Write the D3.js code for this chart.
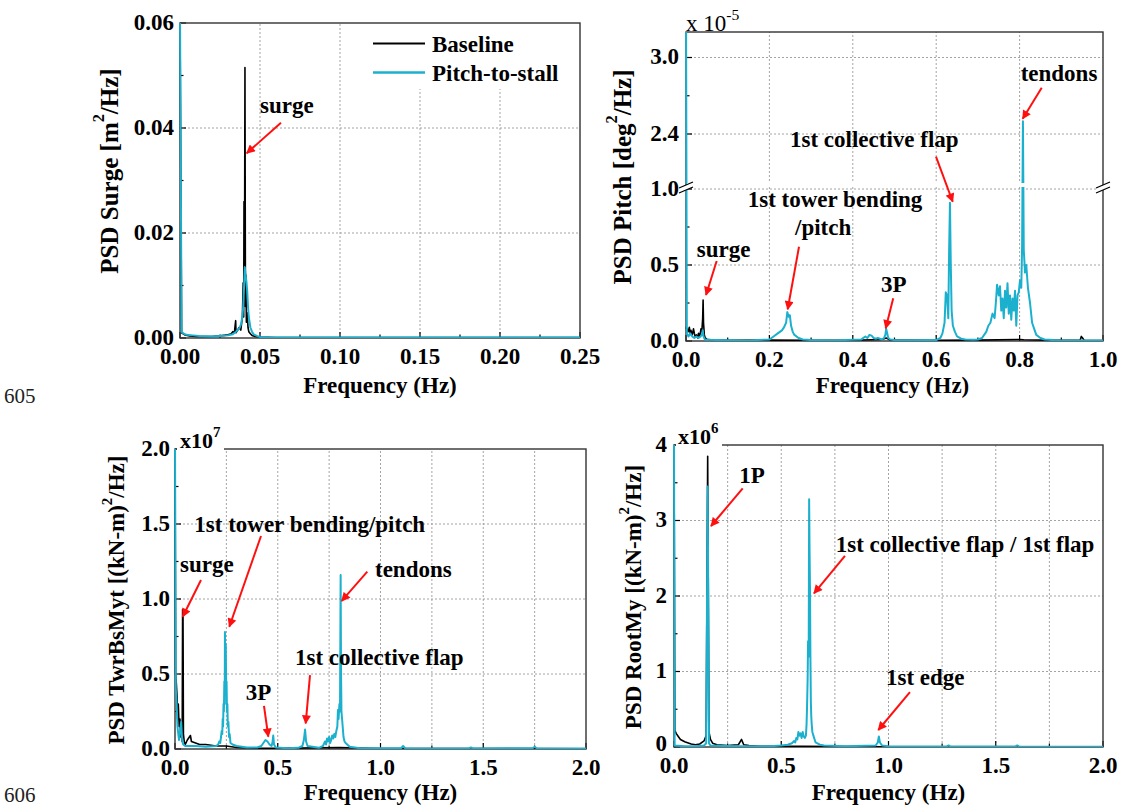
<!DOCTYPE html>
<html><head><meta charset="utf-8">
<script src="https://cdn.jsdelivr.net/npm/d3@7"></script>
<style>
body{margin:0;background:#fff;}
svg{display:block;}
text{font-family:'Liberation Serif','Times New Roman',serif;}
</style>
</head><body>
<svg id="c" width="1121" height="808"></svg>
<script>
// ---------------- DATA ----------------
const seriesNames = ["Baseline", "Pitch-to-stall"];
const pageNumbers = ["605", "606"];

// Panel 1: PSD Surge [m^2/Hz]
const surgeXTicks = [0, 0.05, 0.10, 0.15, 0.20, 0.25];
const surgeYTicks = [0, 0.02, 0.04, 0.06];
const surgeBaseline = [[0,0.062],[0.001,0.001],[0.003,0.0006],[0.006,0.0004],[0.01,0.0003],[0.015,0.0003],[0.02,0.0003],[0.025,0.0004],[0.03,0.0006],[0.032,0.0008],[0.033,0.0012],[0.034,0.001],[0.0345,0.0025],[0.0348,0.0033],[0.035,0.001],[0.036,0.0015],[0.037,0.002],[0.038,0.0015],[0.039,0.004],[0.0395,0.0105],[0.0398,0.004],[0.040,0.026],[0.0403,0.008],[0.0406,0.0515],[0.0409,0.006],[0.0412,0.012],[0.0415,0.003],[0.042,0.0048],[0.0425,0.002],[0.043,0.0012],[0.044,0.0008],[0.045,0.0005],[0.047,0.0003],[0.05,0.0002],[0.06,0.0001],[0.1,0.0001],[0.15,0.0001],[0.2,0.0001],[0.25,0.0001]];
const surgePitch = [[0,0.062],[0.001,0.0012],[0.002,0.0009],[0.004,0.0006],[0.008,0.0005],[0.012,0.0004],[0.02,0.0003],[0.025,0.0004],[0.03,0.0005],[0.033,0.0007],[0.035,0.0012],[0.037,0.0018],[0.038,0.0025],[0.039,0.004],[0.0395,0.006],[0.040,0.0095],[0.0405,0.0135],[0.041,0.012],[0.0415,0.0108],[0.042,0.009],[0.0425,0.006],[0.043,0.004],[0.044,0.002],[0.045,0.0012],[0.046,0.0007],[0.048,0.0004],[0.05,0.0002],[0.055,0.0001],[0.06,0.00008],[0.1,0.00008],[0.15,0.00008],[0.2,0.00008],[0.25,0.00008]];

// Panel 2: PSD Pitch [deg^2/Hz] (x 1e-5), broken axis
const pitchXTicks = [0, 0.2, 0.4, 0.6, 0.8, 1.0];
const pitchYTicksLow = [0, 0.5, 1.0];
const pitchYTicksHigh = [2.4, 3.0];
const pitchBaseline = [[0,0.09],[0.002,0.08],[0.005,0.06],[0.008,0.09],[0.01,0.05],[0.012,0.07],[0.015,0.04],[0.018,0.08],[0.02,0.05],[0.022,0.03],[0.025,0.04],[0.028,0.02],[0.03,0.05],[0.033,0.03],[0.036,0.08],[0.038,0.06],[0.04,0.15],[0.041,0.27],[0.042,0.12],[0.044,0.04],[0.046,0.02],[0.05,0.012],[0.06,0.008],[0.1,0.005],[0.2,0.006],[0.3,0.004],[0.4,0.005],[0.47,0.01],[0.48,0.02],[0.49,0.006],[0.6,0.005],[0.7,0.006],[0.8,0.01],[0.81,0.008],[0.9,0.004],[0.945,0.004],[0.948,0.03],[0.951,0.02],[0.955,0.004],[1.0,0.003]];
const pitchPitch = [[0,3.5],[0.002,0.05],[0.004,0.04],[0.006,0.03],[0.01,0.05],[0.015,0.03],[0.02,0.02],[0.025,0.03],[0.03,0.02],[0.035,0.03],[0.038,0.04],[0.04,0.07],[0.042,0.03],[0.045,0.01],[0.05,0.008],[0.1,0.005],[0.15,0.004],[0.2,0.01],[0.21,0.03],[0.22,0.05],[0.23,0.07],[0.235,0.09],[0.24,0.12],[0.243,0.19],[0.246,0.16],[0.249,0.17],[0.252,0.1],[0.256,0.06],[0.26,0.04],[0.27,0.02],[0.28,0.01],[0.3,0.006],[0.35,0.004],[0.42,0.01],[0.43,0.03],[0.435,0.02],[0.44,0.04],[0.445,0.035],[0.45,0.02],[0.455,0.015],[0.46,0.02],[0.47,0.01],[0.475,0.02],[0.478,0.04],[0.48,0.08],[0.485,0.02],[0.49,0.01],[0.5,0.006],[0.55,0.005],[0.6,0.006],[0.61,0.02],[0.615,0.05],[0.62,0.12],[0.623,0.32],[0.626,0.3],[0.629,0.15],[0.631,0.6],[0.633,0.91],[0.635,0.5],[0.637,0.2],[0.64,0.1],[0.645,0.06],[0.65,0.03],[0.66,0.015],[0.67,0.01],[0.69,0.008],[0.7,0.01],[0.71,0.02],[0.715,0.04],[0.72,0.06],[0.725,0.1],[0.73,0.12],[0.735,0.18],[0.74,0.15],[0.743,0.25],[0.746,0.37],[0.75,0.3],[0.753,0.36],[0.756,0.2],[0.759,0.28],[0.762,0.15],[0.765,0.33],[0.768,0.22],[0.771,0.38],[0.774,0.18],[0.777,0.3],[0.78,0.14],[0.783,0.28],[0.786,0.2],[0.789,0.33],[0.792,0.1],[0.795,0.3],[0.798,0.32],[0.801,0.4],[0.804,0.35],[0.806,0.62],[0.808,2.5],[0.81,0.6],[0.813,0.45],[0.816,0.5],[0.82,0.35],[0.825,0.25],[0.83,0.12],[0.835,0.08],[0.84,0.04],[0.85,0.02],[0.86,0.01],[0.88,0.006],[0.9,0.004],[1.0,0.003]];

// Panel 3: PSD TwrBsMyt [(kN-m)^2/Hz] (x 1e7)
const twrXTicks = [0, 0.5, 1.0, 1.5, 2.0];
const twrYTicks = [0, 0.5, 1.0, 1.5, 2.0];
const twrBaseline = [[0,2.1],[0.003,0.5],[0.006,0.45],[0.01,0.35],[0.013,0.2],[0.016,0.3],[0.02,0.15],[0.024,0.2],[0.028,0.08],[0.032,0.15],[0.035,0.05],[0.037,0.93],[0.039,0.9],[0.041,0.1],[0.045,0.05],[0.05,0.03],[0.06,0.06],[0.07,0.08],[0.075,0.09],[0.08,0.05],[0.1,0.04],[0.12,0.03],[0.15,0.03],[0.2,0.02],[0.25,0.02],[0.3,0.01],[0.4,0.005],[0.5,0.004],[0.8,0.01],[1.0,0.003],[2.0,0.002]];
const twrPitch = [[0,2.1],[0.004,0.4],[0.008,0.3],[0.012,0.15],[0.016,0.1],[0.02,0.06],[0.025,0.12],[0.03,0.18],[0.033,0.1],[0.036,0.05],[0.04,0.03],[0.05,0.02],[0.1,0.02],[0.15,0.015],[0.2,0.02],[0.21,0.03],[0.215,0.05],[0.22,0.04],[0.224,0.08],[0.227,0.12],[0.23,0.1],[0.232,0.2],[0.234,0.15],[0.236,0.3],[0.238,0.25],[0.24,0.45],[0.242,0.3],[0.243,0.78],[0.245,0.55],[0.247,0.7],[0.249,0.4],[0.251,0.45],[0.253,0.25],[0.255,0.3],[0.257,0.15],[0.26,0.18],[0.263,0.08],[0.266,0.1],[0.27,0.04],[0.28,0.03],[0.3,0.02],[0.35,0.01],[0.4,0.01],[0.42,0.02],[0.43,0.04],[0.44,0.06],[0.45,0.05],[0.46,0.03],[0.47,0.02],[0.475,0.05],[0.478,0.09],[0.482,0.03],[0.49,0.01],[0.55,0.005],[0.6,0.008],[0.62,0.02],[0.627,0.06],[0.633,0.13],[0.638,0.05],[0.645,0.02],[0.7,0.008],[0.72,0.02],[0.73,0.05],[0.735,0.03],[0.74,0.07],[0.745,0.05],[0.75,0.08],[0.755,0.04],[0.76,0.06],[0.765,0.09],[0.77,0.07],[0.775,0.1],[0.78,0.08],[0.785,0.12],[0.79,0.15],[0.793,0.26],[0.796,0.2],[0.8,0.3],[0.803,0.25],[0.806,1.16],[0.808,0.5],[0.81,0.25],[0.813,0.2],[0.816,0.15],[0.82,0.08],[0.825,0.05],[0.83,0.04],[0.85,0.015],[0.9,0.005],[1.1,0.005],[1.11,0.02],[1.12,0.005],[1.43,0.004],[1.44,0.01],[1.45,0.004],[1.74,0.005],[1.75,0.015],[1.76,0.005],[1.9,0.004],[2.0,0.003]];

// Panel 4: PSD RootMy [(kN-m)^2/Hz] (x 1e6)
const rootXTicks = [0, 0.5, 1.0, 1.5, 2.0];
const rootYTicks = [0, 1, 2, 3, 4];
const rootBaseline = [[0,4.2],[0.004,0.22],[0.01,0.18],[0.02,0.14],[0.03,0.1],[0.05,0.07],[0.08,0.04],[0.1,0.03],[0.12,0.04],[0.14,0.08],[0.15,0.15],[0.157,3.85],[0.163,0.2],[0.17,0.1],[0.18,0.05],[0.2,0.03],[0.25,0.02],[0.3,0.03],[0.315,0.1],[0.325,0.03],[0.35,0.02],[0.4,0.01],[0.5,0.01],[0.6,0.01],[0.8,0.005],[1.0,0.004],[2.0,0.003]];
const rootPitch = [[0,4.2],[0.003,0.02],[0.05,0.01],[0.1,0.01],[0.14,0.02],[0.15,0.05],[0.157,3.45],[0.163,0.05],[0.17,0.02],[0.3,0.01],[0.45,0.01],[0.5,0.02],[0.53,0.03],[0.55,0.05],[0.56,0.08],[0.565,0.06],[0.57,0.12],[0.575,0.1],[0.58,0.2],[0.585,0.15],[0.59,0.18],[0.595,0.12],[0.6,0.2],[0.605,0.14],[0.61,0.12],[0.615,0.15],[0.618,0.3],[0.62,0.5],[0.623,0.9],[0.625,1.4],[0.628,1.2],[0.63,3.28],[0.632,2.6],[0.634,2.1],[0.636,1.2],[0.638,0.6],[0.64,0.4],[0.642,0.3],[0.645,0.2],[0.65,0.15],[0.66,0.06],[0.68,0.03],[0.7,0.02],[0.8,0.01],[0.94,0.02],[0.95,0.06],[0.955,0.14],[0.96,0.06],[0.97,0.02],[1.0,0.01],[1.27,0.005],[1.28,0.02],[1.29,0.005],[1.59,0.005],[1.6,0.02],[1.61,0.005],[2.0,0.003]];

// Annotations: [text, textX, textY, tailX, tailY, tipX, tipY] in data units (tail/tip null = no arrow)
const surgeNotes = [["surge",0.05,0.0429,0.0631,0.0410,0.0417,0.0352]];
const pitchNotes = [
  ["tendons",0.8026,2.813,0.853,2.763,0.8074,2.519],
  ["1st collective flap",0.2494,2.30,0.5995,2.223,0.6396,0.916],
  ["1st tower bending",0.148,0.884,null,null,null,null],
  ["/pitch",0.2614,0.697,0.271,0.620,0.2439,0.2086],
  ["surge",0.0257,0.5546,0.0736,0.526,0.048,0.3026],
  ["3P",0.4676,0.3243,0.497,0.281,0.479,0.0836]];
const twrNotes = [
  ["1st tower bending/pitch",0.0939,1.449,0.4185,1.42,0.2642,0.815],
  ["surge",0.0243,1.182,0.1265,1.127,0.0375,0.882],
  ["tendons",0.9732,1.149,0.9358,1.182,0.8112,0.987],
  ["3P",0.344,0.327,0.433,0.287,0.454,0.082],
  ["1st collective flap",0.584,0.56,0.657,0.493,0.636,0.171]];
const rootNotes = [
  ["1P",0.3044,3.501,0.3203,3.426,0.1725,2.927],
  ["1st collective flap / 1st flap",0.7538,2.587,0.797,2.530,0.6527,2.036],
  ["1st edge",0.9883,0.821,1.100,0.728,0.9524,0.225]];

// ---------------- DRAWING ----------------
const COLORS = ["#000000", "#1cb0cf"];
const svg = d3.select("#c");
const defs = svg.append("defs");
defs.append("marker").attr("id","ah").attr("viewBox","0 0 10 10").attr("refX",9).attr("refY",5)
  .attr("markerWidth",10).attr("markerHeight",9).attr("markerUnits","userSpaceOnUse").attr("orient","auto")
  .append("path").attr("d","M0,0 L10,5 L0,10 z").attr("fill","#ff1010");

function drawPanel(o, idx){
  const g = svg.append("g");
  const x = d3.scaleLinear().domain([o.xTicks[0], o.xTicks[o.xTicks.length-1]]).range([o.L, o.R]);
  const y = o.y;
  // grid
  g.selectAll(".gx").data(o.gridX).enter().append("line")
    .attr("x1",d=>x(d)).attr("x2",d=>x(d)).attr("y1",o.B).attr("y2",d=> (o.gridXTop && o.gridXTop(d)) || o.T)
    .attr("stroke","#9a9a9a").attr("stroke-width",0.9).attr("stroke-dasharray","2,2");
  g.selectAll(".gy").data(o.gridY).enter().append("line")
    .attr("x1",o.L).attr("x2",o.R).attr("y1",d=>y(d)).attr("y2",d=>y(d))
    .attr("stroke","#9a9a9a").attr("stroke-width",0.9).attr("stroke-dasharray","2,2");
  if (o.legend) {
    g.append("rect").attr("x",o.L+188).attr("y",o.T+3).attr("width",208).attr("height",62).attr("fill","#fff");
  }
  // ticks
  const tk = (vals, len, axis) => vals.forEach(v=>{
    if (axis==="x") g.append("line").attr("x1",x(v)).attr("x2",x(v)).attr("y1",o.B).attr("y2",o.B-len).attr("stroke","#000").attr("stroke-width",1.2);
    else g.append("line").attr("x1",o.L).attr("x2",o.L+len).attr("y1",y(v)).attr("y2",y(v)).attr("stroke","#000").attr("stroke-width",1.2);
  });
  tk(o.xTicks,6,"x"); tk(o.xMinor,3.5,"x"); tk(o.yTicks,6,"y"); tk(o.yMinor,3.5,"y");
  // frame
  g.append("rect").attr("x",o.L).attr("y",o.T).attr("width",o.R-o.L).attr("height",o.B-o.T)
    .attr("fill","none").attr("stroke","#333").attr("stroke-width",1.4);
  // data
  const cid = "clip"+idx;
  defs.append("clipPath").attr("id",cid).append("rect").attr("x",o.L-1.2).attr("y",o.T).attr("width",o.R-o.L+1.2).attr("height",o.B-o.T);
  const line = d3.line().x(d=>x(d[0])).y(d=>y(d[1]));
  const dg = g.append("g").attr("clip-path",`url(#${cid})`);
  o.series.forEach((s,i)=>{
    dg.append("path").datum(s).attr("d",line).attr("fill","none").attr("stroke",COLORS[i])
      .attr("stroke-width", i===0?1.6:2).attr("stroke-linejoin","round");
  });
  // axis break
  if (o.breakY) {
    g.append("rect").attr("x",o.L+1).attr("y",o.breakY-6).attr("width",o.R-o.L-2).attr("height",4).attr("fill","#fff");
    [o.L, o.R].forEach(bx=>{
      g.append("path").attr("d",`M${bx-7},${o.breakY-1} L${bx+7},${o.breakY-7} L${bx+7},${o.breakY-2} L${bx-7},${o.breakY+4} z`).attr("fill","#fff");
      [0,5].forEach(dy=>g.append("line").attr("x1",bx-7).attr("y1",o.breakY-1+dy).attr("x2",bx+7).attr("y2",o.breakY-7+dy)
        .attr("stroke","#000").attr("stroke-width",1.3));
    });
  }
  // tick labels
  g.selectAll(".xl").data(o.xTicks).enter().append("text").attr("x",d=>x(d)).attr("y",o.B+26)
    .attr("text-anchor","middle").attr("font-size",23).attr("font-weight","bold").text(o.xFmt);
  const yDy = o.yLabDy===undefined ? 6.5 : o.yLabDy;
  g.selectAll(".yl").data(o.yTicks).enter().append("text").attr("x",o.L-o.yLabOff).attr("y",d=>y(d)+ (d===o.yTicks[0] ? yDy : 6.5))
    .attr("text-anchor","end").attr("font-size",23).attr("font-weight","bold").text(o.yFmt);
  // axis titles
  g.append("text").attr("x",(o.L+o.R)/2 + o.xTitleDx).attr("y",o.xTitleY).attr("text-anchor","middle")
    .attr("font-size",23).attr("font-weight","bold").text("Frequency (Hz)");
  const ts = o.yTitleSize||23;
  const yt = g.append("text").attr("transform",`translate(${o.yTitleX},${o.yTitleY}) rotate(-90)`)
    .attr("text-anchor","middle").attr("dominant-baseline","central").attr("font-size",ts).attr("font-weight","bold");
  yt.append("tspan").text(o.yTitle[0]);
  yt.append("tspan").attr("font-size",ts*0.65).attr("dy",-ts*0.4).text("2");
  yt.append("tspan").attr("dy",ts*0.4).text(o.yTitle[1]);
  // multiplier
  if (o.mult) {
    const m = o.mult;
    if (m.bg) g.append("rect").attr("x",o.L+2).attr("y",o.T-24).attr("width",m.bg).attr("height",25).attr("fill","#fff");
    const t = g.append("text").attr("x",o.L+m.dx).attr("y",o.T+m.dy).attr("font-size",m.size).attr("font-weight",m.weight);
    t.append("tspan").text(m.base);
    t.append("tspan").attr("font-size",m.size*0.68).attr("dy",-11).text(m.exp);
  }
  // annotations
  o.notes.forEach(n=>{
    g.append("text").attr("x",x(n[1])).attr("y",y(n[2])).attr("font-size",23).attr("font-weight","bold").text(n[0]);
    if (n[3]!==null) g.append("line").attr("x1",x(n[3])).attr("y1",y(n[4])).attr("x2",x(n[5])).attr("y2",y(n[6]))
      .attr("stroke","#ff1010").attr("stroke-width",2).attr("marker-end","url(#ah)");
  });
  // legend
  if (o.legend) {
    seriesNames.forEach((nm,i)=>{
      const ly = o.T + 20.5 + i*29;
      g.append("line").attr("x1",o.L+193).attr("x2",o.L+245).attr("y1",ly).attr("y2",ly).attr("stroke",COLORS[i]).attr("stroke-width",i===0?1.8:2.4);
      g.append("text").attr("x",o.L+252).attr("y",ly+8).attr("font-size",23).attr("font-weight","bold").text(nm);
    });
  }
}

// Panel 1
const y1 = d3.scaleLinear().domain([0,0.06]).range([338,23]);
drawPanel({L:180,R:580,T:23,B:338, xTicks:surgeXTicks, xMinor:[0.025,0.075,0.125,0.175,0.225],
  gridX:[0.05,0.10,0.15,0.20], gridXTop:d=> d>=0.15 ? 89 : null, gridY:[0.02,0.04], y:y1,
  yTicks:surgeYTicks, yMinor:[0.01,0.03,0.05], xFmt:d3.format(".2f"), yFmt:d3.format(".2f"), yLabOff:6,
  xTitleY:393, xTitleDx:0, yTitleX:109, yTitleY:171, yTitleSize:25, yTitle:["PSD Surge [m","/Hz]"],
  series:[surgeBaseline, surgePitch], notes:surgeNotes, legend:true}, 1);

// Panel 2 (broken axis)
const lowScale = d3.scaleLinear().domain([0,1.0]).range([341,189]);
const highScale = d3.scaleLinear().domain([2.0,3.2]).range([185,32]);
const y2 = v => v <= 1.0 ? lowScale(v) : (v >= 2.0 ? highScale(v) : 187);
drawPanel({L:686,R:1103,T:32,B:341, xTicks:pitchXTicks, xMinor:[0.1,0.3,0.5,0.7,0.9],
  gridX:[0.2,0.4,0.6,0.8], gridY:[0.5,1.0,2.4,3.0], y:y2, breakY:189,
  yTicks:pitchYTicksLow.concat(pitchYTicksHigh), yMinor:[0.25,0.75,2.7], xFmt:d3.format(".1f"), yFmt:d3.format(".1f"), yLabOff:7,
  xTitleY:393, xTitleDx:-2, yTitleX:622, yTitleY:177, yTitleSize:25, yTitle:["PSD Pitch [deg","/Hz]"],
  mult:{base:"x 10", exp:"-5", dx:0, dy:-1, size:23, weight:"normal"},
  series:[pitchBaseline, pitchPitch], notes:pitchNotes}, 2);

// Panel 3
const y3 = d3.scaleLinear().domain([0,2.0]).range([749,449]);
drawPanel({L:175,R:586,T:449,B:749, xTicks:twrXTicks, xMinor:[0.25,0.75,1.25,1.75],
  gridX:[0.25,0.5,0.75,1.0,1.25,1.5,1.75], gridY:[0.5,1.0,1.5], y:y3,
  yTicks:twrYTicks, yMinor:[0.25,0.75,1.25,1.75], xFmt:d3.format(".1f"), yFmt:d3.format(".1f"), yLabOff:5,
  xTitleY:800, xTitleDx:0, yTitleX:116, yTitleY:600, yTitle:["PSD TwrBsMyt [(kN-m)","/Hz]"],
  mult:{base:"x10", exp:"7", dx:5, dy:-1, size:22, weight:"bold", bg:47},
  series:[twrBaseline, twrPitch], notes:twrNotes}, 3);

// Panel 4
const y4 = d3.scaleLinear().domain([0,4]).range([747,445]);
drawPanel({L:674,R:1103,T:445,B:747, xTicks:rootXTicks, xMinor:[0.25,0.75,1.25,1.75],
  gridX:[0.25,0.5,0.75,1.0,1.25,1.5,1.75], gridY:[1,2,3], y:y4,
  yTicks:rootYTicks, yMinor:[0.5,1.5,2.5,3.5], xFmt:d3.format(".1f"), yFmt:d3.format("d"), yLabOff:7, yLabDy:4,
  xTitleY:800, xTitleDx:0, yTitleX:633, yTitleY:597, yTitle:["PSD RootMy [(kN-m)","/Hz]"],
  mult:{base:"x10", exp:"6", dx:4, dy:-1, size:22, weight:"bold", bg:46},
  series:[rootBaseline, rootPitch], notes:rootNotes}, 4);

// page numbers
svg.append("text").attr("x",4).attr("y",403).attr("font-size",21).attr("fill","#222").text(pageNumbers[0]);
svg.append("text").attr("x",4).attr("y",802).attr("font-size",21).attr("fill","#222").text(pageNumbers[1]);
</script>
</body></html>
